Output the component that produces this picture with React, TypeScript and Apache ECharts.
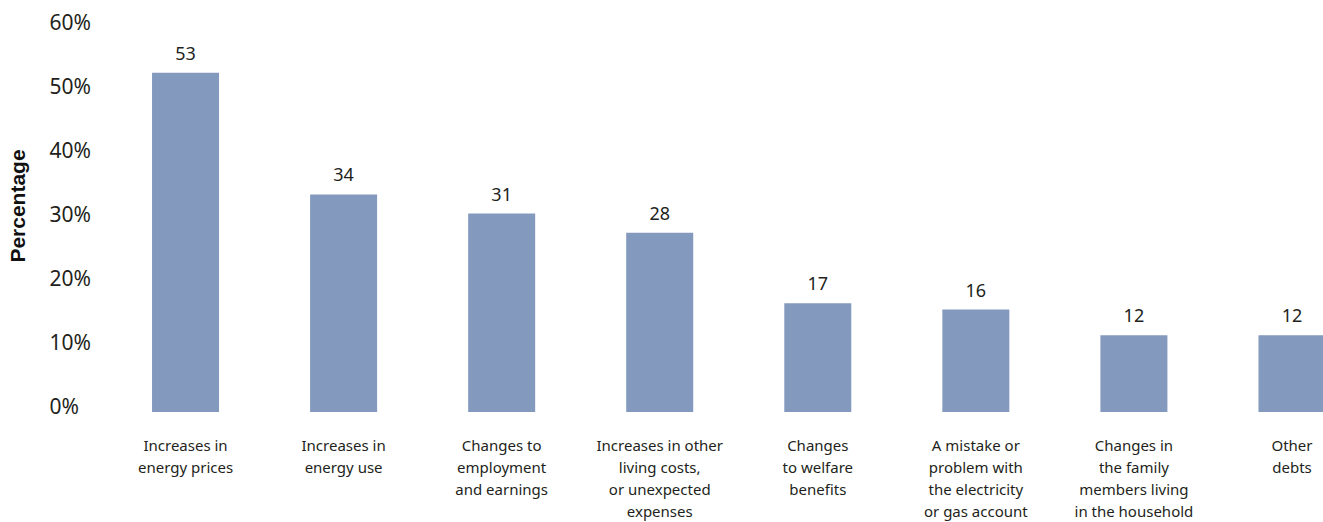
import React, { useEffect, useRef } from "react";
import * as echarts from "echarts";

const categories = [
  "Increases in\nenergy prices",
  "Increases in\nenergy use",
  "Changes to\nemployment\nand earnings",
  "Increases in other\nliving costs,\nor unexpected\nexpenses",
  "Changes\nto welfare\nbenefits",
  "A mistake or\nproblem with\nthe electricity\nor gas account",
  "Changes in\nthe family\nmembers living\nin the household",
  "Other\ndebts",
];
const values = [53, 34, 31, 28, 17, 16, 12, 12];
const yTicks = { min: 0, max: 60, interval: 10 };

const FONT = "'Noto Sans', sans-serif";

export default function App() {
  const ref = useRef<HTMLDivElement>(null);
  useEffect(() => {
    if (!ref.current) return;
    const chart = echarts.init(ref.current, null, { renderer: "svg" });
    chart.setOption({
      animation: false,
      backgroundColor: "#ffffff",
      grid: { left: 106.5, right: 0, top: 28, bottom: 106, containLabel: false },
      graphic: [
        {
          type: "text",
          x: 17.5,
          y: 206,
          rotation: Math.PI / 2,
          style: {
            text: "Percentage",
            fontFamily: "'Liberation Sans', Arial, sans-serif",
            fontSize: 21,
            fontWeight: "bold",
            fill: "#111111",
            textAlign: "center",
            textVerticalAlign: "middle",
          },
        },
      ],
      xAxis: {
        type: "category",
        data: categories,
        axisLine: { show: false },
        axisTick: { show: false },
        axisLabel: {
          interval: 0,
          margin: 22,
          fontFamily: FONT,
          fontSize: 15,
          lineHeight: 22,
          color: "#231f20",
        },
      },
      yAxis: {
        type: "value",
        min: yTicks.min,
        max: yTicks.max,
        interval: yTicks.interval,
        axisLine: { show: false },
        axisTick: { show: false },
        splitLine: { show: false },
        axisLabel: {
          formatter: "{value}%",
          align: "left",
          verticalAlign: "bottom",
          lineHeight: 12,
          margin: 57,
          fontFamily: FONT,
          fontSize: 21,
          color: "#231f20",
        },
      },
      series: [
        {
          type: "bar",
          data: values,
          barWidth: 67,
          itemStyle: { color: "#8399be" },
          label: {
            show: true,
            position: "top",
            distance: 11,
            fontFamily: FONT,
            fontSize: 18,
            color: "#231f20",
          },
        },
      ],
    });
    return () => chart.dispose();
  }, []);
  return (
    <div
      style={{
        position: "fixed",
        left: 0,
        top: 0,
        width: 1323,
        height: 522,
        overflow: "hidden",
        background: "#ffffff",
      }}
    >
      <div ref={ref} style={{ width: 1371, height: 522 }} />
    </div>
  );
}
